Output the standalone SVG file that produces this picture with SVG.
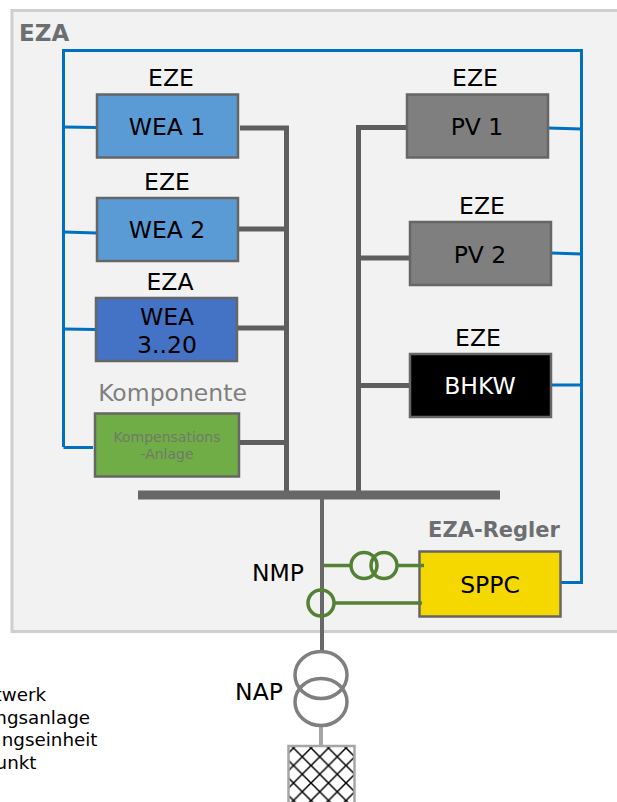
<svg xmlns="http://www.w3.org/2000/svg" width="617" height="802" viewBox="0 0 617 802">
<style>
text{font-family:"DejaVu Sans",Verdana,sans-serif;fill:#000;text-anchor:middle}
.l{font-size:23.500px}
.s{font-size:18.300px;text-anchor:end}
.b{stroke:#666;stroke-width:2.5}
.bus{fill:none;stroke:#5e5e5e;stroke-width:5}
.ctl{fill:none;stroke:#0070c0;stroke-width:3}
.g{fill:none;stroke:#548235;stroke-width:3.5}
.t{fill:none;stroke:#7f7f7f;stroke-width:3.5}
</style>
<defs>
<pattern id="hatch" width="17.500" height="17.500" patternUnits="userSpaceOnUse" x="293.500" y="748">
<path d="M0 0L17.500 17.500M17.500 0L0 17.500" stroke="#000" stroke-width="1.500"/>
</pattern>
</defs>
<rect id="frame" x="12" y="10.500" width="620" height="621" fill="#f2f2f2" stroke="#d0cece" stroke-width="3"/>
<text x="19" y="41" style="font-size:23px;font-weight:bold;fill:#6d6e71;text-anchor:start">EZA</text>
<g id="connectors">
<path class="ctl" d="M63.500 447V50.500H581.500V582.500H560"/>
<path class="ctl" d="M63.500 127L97 127.500M63.500 232L97 233M63.500 329L96 329.500M63.500 447.500H93M548 128L581.500 129M551 253L581.500 254M551 385H581.500"/>
<path class="bus" d="M240 128H286.500V495M238 229H286.500M237 328H286.500M240 442.500H286.500"/>
<path class="bus" d="M407 127.500H358.500V495M410 258H358.500M410 385.500H358.500"/>
<path d="M138 495H500" fill="none" stroke="#676769" stroke-width="9"/>
<path d="M322 499V652" fill="none" stroke="#68686a" stroke-width="4"/>
<path d="M321 727V746" fill="none" stroke="#a6a6a6" stroke-width="4"/>
</g>
<g id="transformer"><ellipse class="t" cx="321" cy="675" rx="26" ry="23.500"/><ellipse class="t" cx="321" cy="702" rx="26" ry="23.500"/></g>
<g id="grid"><rect x="288.500" y="746" width="66" height="60" fill="url(#hatch)" stroke="#a6a6a6" stroke-width="2.500"/></g>
<g id="wea1"><rect class="b" x="97" y="94.500" width="141" height="63" fill="#5b9bd5"/><text class="l" x="171" y="86">EZE</text><text class="l" x="167" y="135">WEA  1</text></g>
<g id="wea2"><rect class="b" x="97" y="198" width="141" height="63" fill="#5b9bd5"/><text class="l" x="167" y="190">EZE</text><text class="l" x="167" y="238">WEA  2</text></g>
<g id="wea3"><rect class="b" x="96" y="298" width="141" height="63" fill="#4472c4"/><text class="l" x="170" y="290">EZA</text><text class="l" x="167" y="325">WEA</text><text class="l" x="167" y="353">3..20</text></g>
<g id="komp"><rect class="b" x="95" y="413.500" width="144" height="63" fill="#70ad47"/><text x="172.500" y="401" style="font-size:23.500px;fill:#7f7f7f">Komponente</text><text x="167" y="442" style="font-size:14px;fill:#6f7a68">Kompensations</text><text x="167" y="459" style="font-size:14px;fill:#6f7a68">-Anlage</text></g>
<g id="pv1"><rect class="b" x="407" y="94.500" width="141" height="63" fill="#7f7f7f"/><text class="l" x="475" y="86">EZE</text><text class="l" x="477" y="135">PV  1</text></g>
<g id="pv2"><rect class="b" x="410" y="222" width="141" height="63" fill="#7f7f7f"/><text class="l" x="482" y="214">EZE</text><text class="l" x="480" y="263">PV  2</text></g>
<g id="bhkw"><rect class="b" x="410" y="354" width="141" height="63" fill="#000"/><text class="l" x="478" y="346">EZE</text><text class="l" x="480" y="394" style="fill:#fff">BHKW</text></g>
<g id="sppc"><rect class="b" x="419.500" y="551.500" width="141" height="65" fill="#f4d800"/><text class="l" x="490" y="593">SPPC</text><text x="494" y="537" style="font-size:21px;font-weight:bold;fill:#6d6e71">EZA-Regler</text></g>
<g id="ct1"><path class="g" d="M324 565.500H351M397 565.500H424"/><circle class="g" cx="364" cy="565.500" r="13"/><circle class="g" cx="384" cy="565.500" r="13"/></g>
<g id="ct2"><path class="g" d="M335 603H422"/><circle class="g" cx="321" cy="603" r="13"/></g>
<text class="l" x="278" y="581">NMP</text>
<text class="l" x="259" y="700">NAP</text>
<g id="legend"><text class="s" x="46" y="701">twerk</text><text class="s" x="90" y="724">ngsanlage</text><text class="s" x="97.500" y="746">ngseinheit</text><text class="s" x="36.500" y="769">unkt</text></g>
</svg>
